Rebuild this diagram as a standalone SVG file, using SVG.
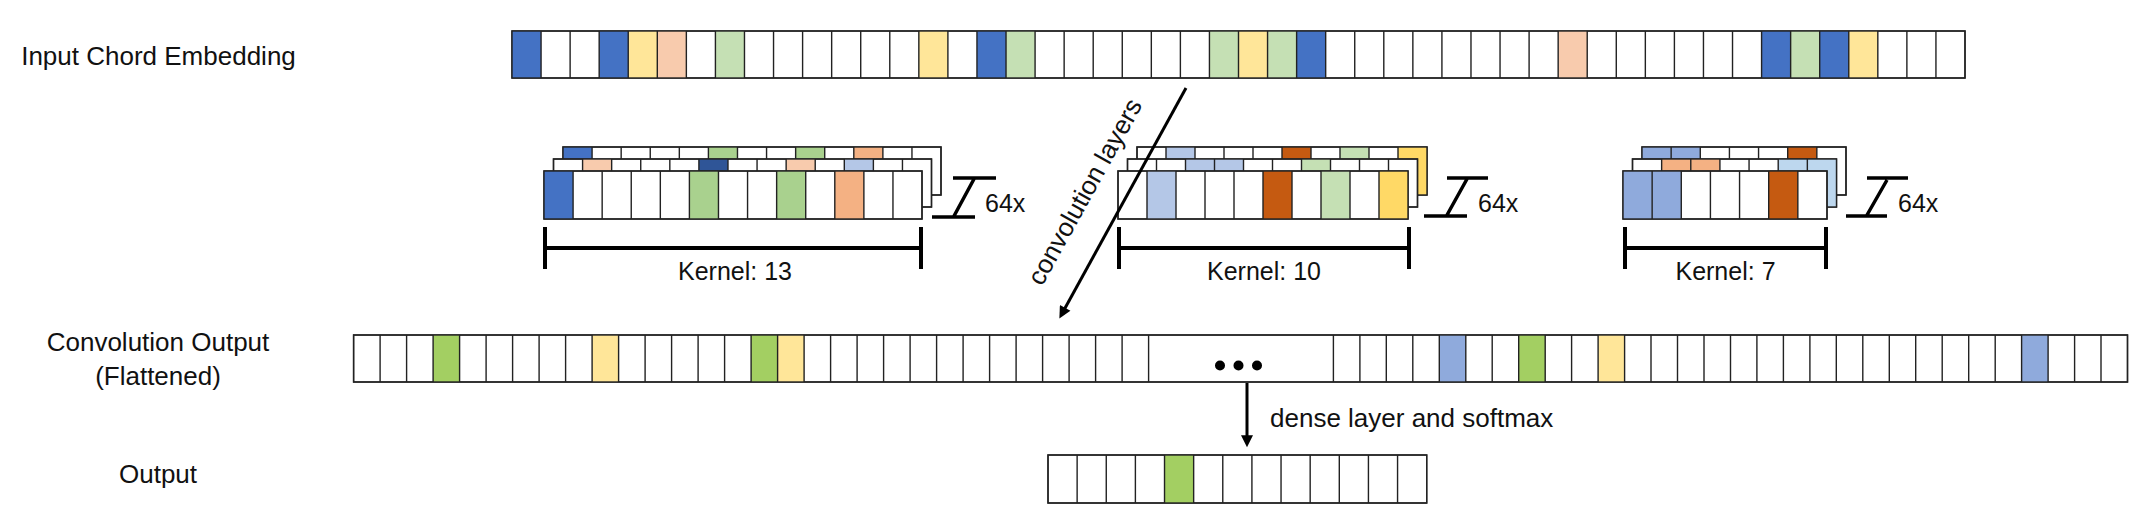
<svg xmlns="http://www.w3.org/2000/svg" width="2153" height="531" viewBox="0 0 2153 531">
<style>
.lbl{font-family:"Liberation Sans",Arial,sans-serif;font-size:26px;fill:#111}
.sm{font-family:"Liberation Sans",Arial,sans-serif;font-size:25px;fill:#111}
.box{fill:#fff;stroke:#222;stroke-width:1.4}
.dv{fill:none;stroke:#222;stroke-width:1.4}
.br{fill:none;stroke:#000;stroke-width:4}
.ib{fill:none;stroke:#000;stroke-width:3.5}
.con{fill:none;stroke:#000;stroke-width:3}
.b{fill:#4472C4}.y{fill:#FFE699}.p{fill:#F8CBAD}.g{fill:#C5E0B4}
.g2{fill:#A9D18E}.o{fill:#F4B183}.db{fill:#2F5597}.lb{fill:#B4C7E7}
.do{fill:#C55A11}.yy{fill:#FFD966}.mb{fill:#8FAADC}.sb{fill:#BDD7EE}.lg{fill:#A3CF62}
</style>
<defs>
<path id="div13" class="dv" d="M29.08,0V48M58.16,0V48M87.24,0V48M116.32,0V48M145.4,0V48M174.48,0V48M203.56,0V48M232.64,0V48M261.72,0V48M290.8,0V48M319.88,0V48M348.96,0V48"/>
<path id="div10" class="dv" d="M29,0V48M58,0V48M87,0V48M116,0V48M145,0V48M174,0V48M203,0V48M232,0V48M261,0V48"/>
<path id="div7" class="dv" d="M29.14,0V48M58.28,0V48M87.42,0V48M116.56,0V48M145.7,0V48M174.84,0V48"/>
<marker id="ah" viewBox="0 0 10 10" refX="3.9" refY="5" markerWidth="13" markerHeight="12" markerUnits="userSpaceOnUse" orient="auto">
<path d="M0,0L10,5L0,10z" fill="#000"/>
</marker>
</defs>
<rect width="2153" height="531" fill="#fff"/>

<g id="input">
<text class="lbl" x="158.5" y="65" text-anchor="middle">Input Chord Embedding</text>
<g transform="translate(512,31)">
<rect class="box" x="0" y="0" width="1453" height="47"/>
<rect class="b" x="0" width="29.06" height="47"/>
<rect class="b" x="87.18" width="29.06" height="47"/>
<rect class="y" x="116.24" width="29.06" height="47"/>
<rect class="p" x="145.3" width="29.06" height="47"/>
<rect class="g" x="203.42" width="29.06" height="47"/>
<rect class="y" x="406.84" width="29.06" height="47"/>
<rect class="b" x="464.96" width="29.06" height="47"/>
<rect class="g" x="494.02" width="29.06" height="47"/>
<rect class="g" x="697.44" width="29.06" height="47"/>
<rect class="y" x="726.5" width="29.06" height="47"/>
<rect class="g" x="755.56" width="29.06" height="47"/>
<rect class="b" x="784.62" width="29.06" height="47"/>
<rect class="p" x="1046.16" width="29.06" height="47"/>
<rect class="b" x="1249.58" width="29.06" height="47"/>
<rect class="g" x="1278.64" width="29.06" height="47"/>
<rect class="b" x="1307.7" width="29.06" height="47"/>
<rect class="y" x="1336.76" width="29.06" height="47"/>
<rect x="0" y="0" width="1453" height="47" fill="none" stroke="#222" stroke-width="1.4"/>
<path class="dv" d="M29.06,0V47M58.12,0V47M87.18,0V47M116.24,0V47M145.3,0V47M174.36,0V47M203.42,0V47M232.48,0V47M261.54,0V47M290.6,0V47M319.66,0V47M348.72,0V47M377.78,0V47M406.84,0V47M435.9,0V47M464.96,0V47M494.02,0V47M523.08,0V47M552.14,0V47M581.2,0V47M610.26,0V47M639.32,0V47M668.38,0V47M697.44,0V47M726.5,0V47M755.56,0V47M784.62,0V47M813.68,0V47M842.74,0V47M871.8,0V47M900.86,0V47M929.92,0V47M958.98,0V47M988.04,0V47M1017.1,0V47M1046.16,0V47M1075.22,0V47M1104.28,0V47M1133.34,0V47M1162.4,0V47M1191.46,0V47M1220.52,0V47M1249.58,0V47M1278.64,0V47M1307.7,0V47M1336.76,0V47M1365.82,0V47M1394.88,0V47M1423.94,0V47"/>
</g>
</g>

<g id="kernel13">
<g transform="translate(563,147)">
<rect class="box" width="378" height="48"/>
<rect class="b" x="0" width="29.08" height="48"/><rect class="g2" x="145.4" width="29.08" height="48"/><rect class="g2" x="232.64" width="29.08" height="48"/><rect class="o" x="290.8" width="29.08" height="48"/>
<rect width="378" height="48" fill="none" stroke="#222" stroke-width="1.4"/><use href="#div13"/>
</g>
<g transform="translate(553.5,159)">
<rect class="box" width="378" height="48"/>
<rect class="p" x="29.08" width="29.08" height="48"/><rect class="db" x="145.4" width="29.08" height="48"/><rect class="p" x="232.64" width="29.08" height="48"/><rect class="lb" x="290.8" width="29.08" height="48"/>
<rect width="378" height="48" fill="none" stroke="#222" stroke-width="1.4"/><use href="#div13"/>
</g>
<g transform="translate(544,171)">
<rect class="box" width="378" height="48"/>
<rect class="b" x="0" width="29.08" height="48"/><rect class="g2" x="145.4" width="29.08" height="48"/><rect class="g2" x="232.64" width="29.08" height="48"/><rect class="o" x="290.8" width="29.08" height="48"/>
<rect width="378" height="48" fill="none" stroke="#222" stroke-width="1.4"/><use href="#div13"/>
</g>
<path class="ib" d="M953,178H996M932,217H975M974,179L954,216"/>
<text class="sm" x="985" y="212">64x</text>
<path class="br" d="M545,248H921M545,227V269M921,227V269"/>
<text class="sm" x="735" y="280" text-anchor="middle">Kernel: 13</text>
</g>

<g id="kernel10">
<g transform="translate(1137,147)">
<rect class="box" width="290" height="48"/>
<rect class="lb" x="29" width="29" height="48"/><rect class="do" x="145" width="29" height="48"/><rect class="g" x="203" width="29" height="48"/><rect class="yy" x="261" width="29" height="48"/>
<rect width="290" height="48" fill="none" stroke="#222" stroke-width="1.4"/><use href="#div10"/>
</g>
<g transform="translate(1127.5,159)">
<rect class="box" width="290" height="48"/>
<rect class="lb" x="58" width="29" height="48"/><rect class="lb" x="87" width="29" height="48"/><rect class="g" x="174" width="29" height="48"/>
<rect width="290" height="48" fill="none" stroke="#222" stroke-width="1.4"/><use href="#div10"/>
</g>
<g transform="translate(1118,171)">
<rect class="box" width="290" height="48"/>
<rect class="lb" x="29" width="29" height="48"/><rect class="do" x="145" width="29" height="48"/><rect class="g" x="203" width="29" height="48"/><rect class="yy" x="261" width="29" height="48"/>
<rect width="290" height="48" fill="none" stroke="#222" stroke-width="1.4"/><use href="#div10"/>
</g>
<path class="ib" d="M1447,178H1488M1424,216H1467M1467,179L1447,215"/>
<text class="sm" x="1478" y="212">64x</text>
<path class="br" d="M1119,248H1409M1119,227V269M1409,227V269"/>
<text class="sm" x="1264" y="280" text-anchor="middle">Kernel: 10</text>
</g>

<g id="kernel7">
<g transform="translate(1642,147)">
<rect class="box" width="204" height="48"/>
<rect class="mb" x="0" width="29.14" height="48"/><rect class="mb" x="29.14" width="29.14" height="48"/><rect class="do" x="145.7" width="29.14" height="48"/>
<rect width="204" height="48" fill="none" stroke="#222" stroke-width="1.4"/><use href="#div7"/>
</g>
<g transform="translate(1632.5,159)">
<rect class="box" width="204" height="48"/>
<rect class="o" x="29.14" width="29.14" height="48"/><rect class="o" x="58.28" width="29.14" height="48"/><rect class="sb" x="145.7" width="29.14" height="48"/><rect class="sb" x="174.84" width="29.16" height="48"/>
<rect width="204" height="48" fill="none" stroke="#222" stroke-width="1.4"/><use href="#div7"/>
</g>
<g transform="translate(1623,171)">
<rect class="box" width="204" height="48"/>
<rect class="mb" x="0" width="29.14" height="48"/><rect class="mb" x="29.14" width="29.14" height="48"/><rect class="do" x="145.7" width="29.14" height="48"/>
<rect width="204" height="48" fill="none" stroke="#222" stroke-width="1.4"/><use href="#div7"/>
</g>
<path class="ib" d="M1867,178H1908M1846,216H1887M1887,180L1867,215"/>
<text class="sm" x="1898" y="212">64x</text>
<path class="br" d="M1625,248H1826M1625,227V269M1826,227V269"/>
<text class="sm" x="1725.5" y="280" text-anchor="middle">Kernel: 7</text>
</g>

<g id="convout">
<text class="lbl" x="158" y="351" text-anchor="middle">Convolution Output</text>
<text class="lbl" x="158" y="385" text-anchor="middle">(Flattened)</text>
<g transform="translate(353.6,335)">
<rect class="box" width="1773.9" height="47"/>
<rect class="lg" x="79.5" width="26.5" height="47"/>
<rect class="y" x="238.5" width="26.5" height="47"/>
<rect class="lg" x="397.5" width="26.5" height="47"/>
<rect class="y" x="424" width="26.5" height="47"/>
<rect class="mb" x="1085.7" width="26.5" height="47"/>
<rect class="lg" x="1165.1" width="26.5" height="47"/>
<rect class="y" x="1244.5" width="26.5" height="47"/>
<rect class="mb" x="1668" width="26.5" height="47"/>
<rect width="1773.9" height="47" fill="none" stroke="#222" stroke-width="1.4"/>
<path class="dv" d="M26.5,0V47M53,0V47M79.5,0V47M106,0V47M132.5,0V47M159,0V47M185.5,0V47M212,0V47M238.5,0V47M265,0V47M291.5,0V47M318,0V47M344.5,0V47M371,0V47M397.5,0V47M424,0V47M450.5,0V47M477,0V47M503.5,0V47M530,0V47M556.5,0V47M583,0V47M609.5,0V47M636,0V47M662.5,0V47M689,0V47M715.5,0V47M742,0V47M768.5,0V47M795,0V47M979.8,0V47M1006.3,0V47M1032.7,0V47M1059.2,0V47M1085.7,0V47M1112.2,0V47M1138.6,0V47M1165.1,0V47M1191.6,0V47M1218,0V47M1244.5,0V47M1271,0V47M1297.4,0V47M1323.9,0V47M1350.4,0V47M1376.9,0V47M1403.3,0V47M1429.8,0V47M1456.3,0V47M1482.7,0V47M1509.2,0V47M1535.7,0V47M1562.1,0V47M1588.6,0V47M1615.1,0V47M1641.6,0V47M1668,0V47M1694.5,0V47M1721,0V47M1747.4,0V47"/>
</g>
<text x="1240" y="370" text-anchor="middle" font-family="'Liberation Serif','Times New Roman',serif" font-weight="bold" font-size="62" letter-spacing="3" fill="#000">...</text>
</g>

<g id="output">
<text class="lbl" x="158" y="483" text-anchor="middle">Output</text>
<g transform="translate(1048,455)">
<rect class="box" width="378.7" height="48"/>
<rect class="lg" x="116.52" width="29.13" height="48"/>
<rect width="378.7" height="48" fill="none" stroke="#222" stroke-width="1.4"/>
<path class="dv" d="M29.13,0V48M58.26,0V48M87.39,0V48M116.52,0V48M145.65,0V48M174.78,0V48M203.91,0V48M233.04,0V48M262.17,0V48M291.3,0V48M320.43,0V48M349.56,0V48"/>
</g>
</g>

<g id="connectors">
<line class="con" x1="1186" y1="88" x2="1062.9" y2="312" marker-end="url(#ah)"/>
<text class="lbl" font-size="27" transform="translate(1042,287) rotate(-61)">convolution layers</text>
<line class="con" x1="1247" y1="383" x2="1247" y2="440" marker-end="url(#ah)"/>
<text class="lbl" x="1270" y="427">dense layer and softmax</text>
</g>
</svg>
